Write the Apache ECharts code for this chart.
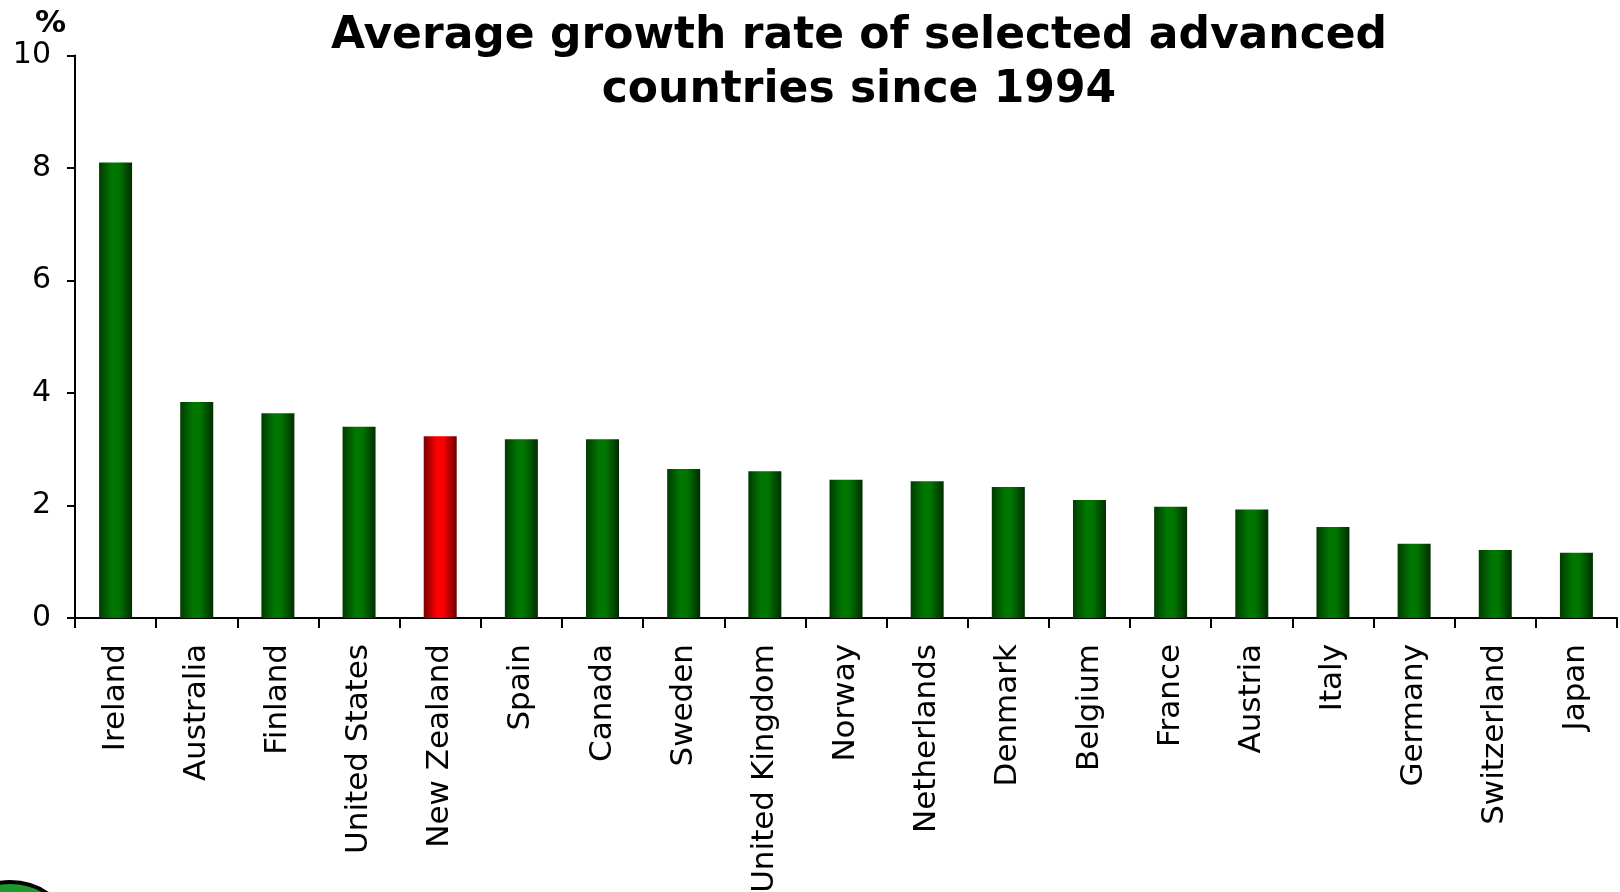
<!DOCTYPE html>
<html>
<head>
<meta charset="utf-8">
<script src="https://cdn.jsdelivr.net/npm/echarts@6/dist/echarts.min.js"></script>
<style>html,body{margin:0;padding:0;background:#fff}#c{width:1620px;height:892px}</style>
</head>
<body>
<div id="c"></div>
<script>
const countries = ["Ireland","Australia","Finland","United States","New Zealand","Spain","Canada","Sweden","United Kingdom","Norway","Netherlands","Denmark","Belgium","France","Austria","Italy","Germany","Switzerland","Japan"];
const growth = [8.1, 3.84, 3.64, 3.4, 3.23, 3.18, 3.18, 2.65, 2.61, 2.46, 2.43, 2.33, 2.1, 1.98, 1.93, 1.62, 1.32, 1.21, 1.16];
const highlight = "New Zealand";
const yTicks = [0, 2, 4, 6, 8, 10];

const font = "DejaVu Sans, Verdana, sans-serif";
const greenGrad = {type:'linear',x:0,y:0,x2:1,y2:0,colorStops:[
  {offset:0,color:'#003c00'},{offset:0.4,color:'#007800'},{offset:0.6,color:'#007400'},{offset:1,color:'#002e00'}]};
const redGrad = {type:'linear',x:0,y:0,x2:1,y2:0,colorStops:[
  {offset:0,color:'#7a0000'},{offset:0.4,color:'#ff0000'},{offset:0.6,color:'#fa0000'},{offset:1,color:'#6a0000'}]};

const chart = echarts.init(document.getElementById('c'), null, {renderer:'canvas'});
chart.setOption({
  backgroundColor:'#ffffff',
  animation:false,
  title:{
    text:'Average growth rate of selected advanced\ncountries since 1994',
    left:854, top:5, textAlign:'center',
    textStyle:{fontFamily:font,fontWeight:'bold',fontSize:44,lineHeight:54,color:'#000'}
  },
  graphic:[
    {type:'text',left:35,top:8,style:{text:'%',fontFamily:font,fontWeight:'bold',fontSize:31,fill:'#000'}},
    {type:'circle',shape:{cx:10,cy:948,r:66},style:{fill:'#1f9a2a',stroke:'#000',lineWidth:4},silent:true}
  ],
  grid:{left:75,right:3,top:55.5,bottom:274,containLabel:false,outerBoundsMode:'none'},
  xAxis:{
    type:'category',
    data:countries,
    boundaryGap:true,
    axisLine:{show:true,lineStyle:{color:'#000',width:2}},
    axisTick:{show:true,interval:0,length:10,lineStyle:{color:'#000',width:2}},
    axisLabel:{interval:0,rotate:90,margin:26,fontFamily:font,fontSize:31,color:'#000'}
  },
  yAxis:{
    type:'value',
    min:yTicks[0], max:yTicks[yTicks.length-1], interval:2,
    splitLine:{show:false},
    axisLine:{show:true,lineStyle:{color:'#000',width:2}},
    axisTick:{show:true,length:8,lineStyle:{color:'#000',width:2}},
    axisLabel:{margin:24,fontFamily:font,fontSize:30,color:'#000'}
  },
  series:[{
    type:'bar',
    barWidth:33,
    data:growth.map((v,i)=>({value:v,itemStyle:{color: countries[i]===highlight ? redGrad : greenGrad}}))
  }]
});
</script>
</body>
</html>
